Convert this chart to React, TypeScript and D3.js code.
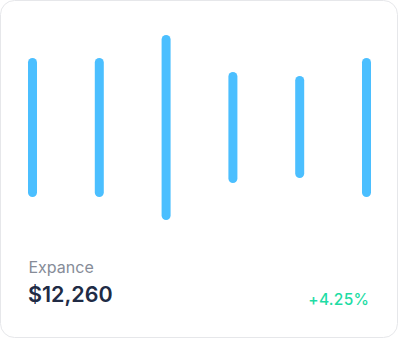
import React from "react";
import * as d3 from "d3";

// Expense range per period: low and high value of each floating bar
const periods = ["Jan", "Feb", "Mar", "Apr", "May", "Jun"];
const lowValues = [33, 33, 10, 47, 52, 33];
const highValues = [172, 172, 195, 158, 154, 172];

const cardTitle = "Expance";
const cardAmount = "$12,260";
const cardChange = "+4.25%";

const W = 399;
const H = 339;

export default function App() {
  const x = d3.scalePoint<string>().domain(periods).range([32.5, 366.5]);
  const y = d3.scaleLinear().domain([0, 200]).range([230, 30]);
  const barW = 9;

  return (
    <div style={{ position: "absolute", left: 0, top: 0 }}>
      <svg width={W} height={H} style={{ display: "block", fontFamily: "Inter, 'Noto Sans', sans-serif" }}>
        <rect x={0.5} y={0.5} width={397} height={337} rx={14} ry={14} fill="#ffffff" stroke="#e6e7ea" strokeWidth={1} />
        {periods.map((p, i) => {
          const top = y(highValues[i]);
          const bottom = y(lowValues[i]);
          return (
            <rect
              key={p}
              x={(x(p) as number) - barW / 2}
              y={top}
              width={barW}
              height={bottom - top}
              rx={barW / 2}
              fill="#4bbfff"
            />
          );
        })}
        <text x={28.5} y={273.3} fontSize={16} fill="#868c98">{cardTitle}</text>
        <text x={28} y={301.7} fontSize={21.5} fontWeight={600} fill="#202b45">{cardAmount}</text>
        <text x={369.3} y={305} fontSize={15.5} fontWeight={500} letterSpacing={0.3} fill="#1edca4" textAnchor="end">{cardChange}</text>
      </svg>
    </div>
  );
}
